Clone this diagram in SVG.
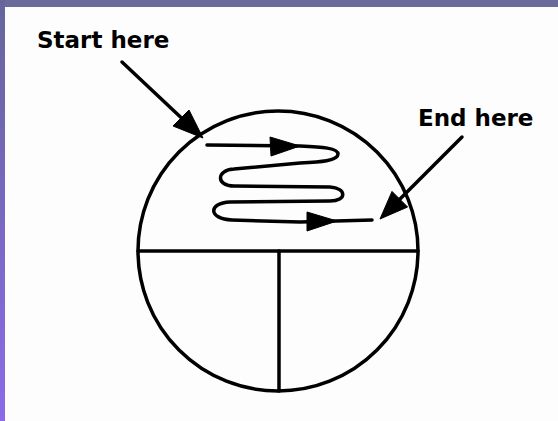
<svg xmlns="http://www.w3.org/2000/svg" width="558" height="421" viewBox="0 0 558 421">
  <defs>
    <linearGradient id="leftbar" x1="0" y1="0" x2="0" y2="1">
      <stop offset="0" stop-color="#66669a"/>
      <stop offset="1" stop-color="#8b6be8"/>
    </linearGradient>
    <style>
      .lbl { font-family: "DejaVu Sans", "Liberation Sans", sans-serif; font-weight: bold; font-size: 23px; fill: #000; }
      .ln { fill: none; stroke: #000; stroke-width: 3.5; stroke-linecap: round; stroke-linejoin: round; }
      .head { fill: #000; stroke: #000; stroke-width: 1; stroke-linejoin: round; }
    </style>
  </defs>
  <rect x="0" y="0" width="558" height="421" fill="#fdfdfd"/>
  <g id="frame">
    <rect x="0" y="0" width="558" height="7" fill="#6a6a9b"/>
    <rect x="0" y="0" width="5" height="421" fill="url(#leftbar)"/>
  </g>
  <g id="circle">
    <circle class="ln" cx="278" cy="251" r="140"/>
    <line class="ln" x1="138" y1="251" x2="418" y2="251"/>
    <line class="ln" x1="279" y1="251" x2="279" y2="391"/>
  </g>
  <g id="start-label">
    <text class="lbl" x="37" y="48">Start here</text>
  </g>
  <g id="end-label">
    <text class="lbl" x="418" y="126">End here</text>
  </g>
  <g id="connectors">
    <line class="ln" x1="122" y1="62" x2="190" y2="126"/>
    <polygon class="head" points="203,138 173,126 189,110"/>
    <line class="ln" x1="462" y1="137" x2="392" y2="207"/>
    <polygon class="head" points="380,219 407.6,207 392,191.4"/>
    <path class="ln" d="M207,145 L300,146 C322,147 338,148 338,154 C338,161 320,162 300,163 L234,169 C216,170 216,186 234,186 L330,187 C347,188 347,201 330,201 L230,202 C208,203 208,219 232,220 L300,222 L372,220"/>
    <polygon class="head" points="300,146 270,137 271,156"/>
    <polygon class="head" points="337,221 307,212 307,231"/>
  </g>
</svg>
